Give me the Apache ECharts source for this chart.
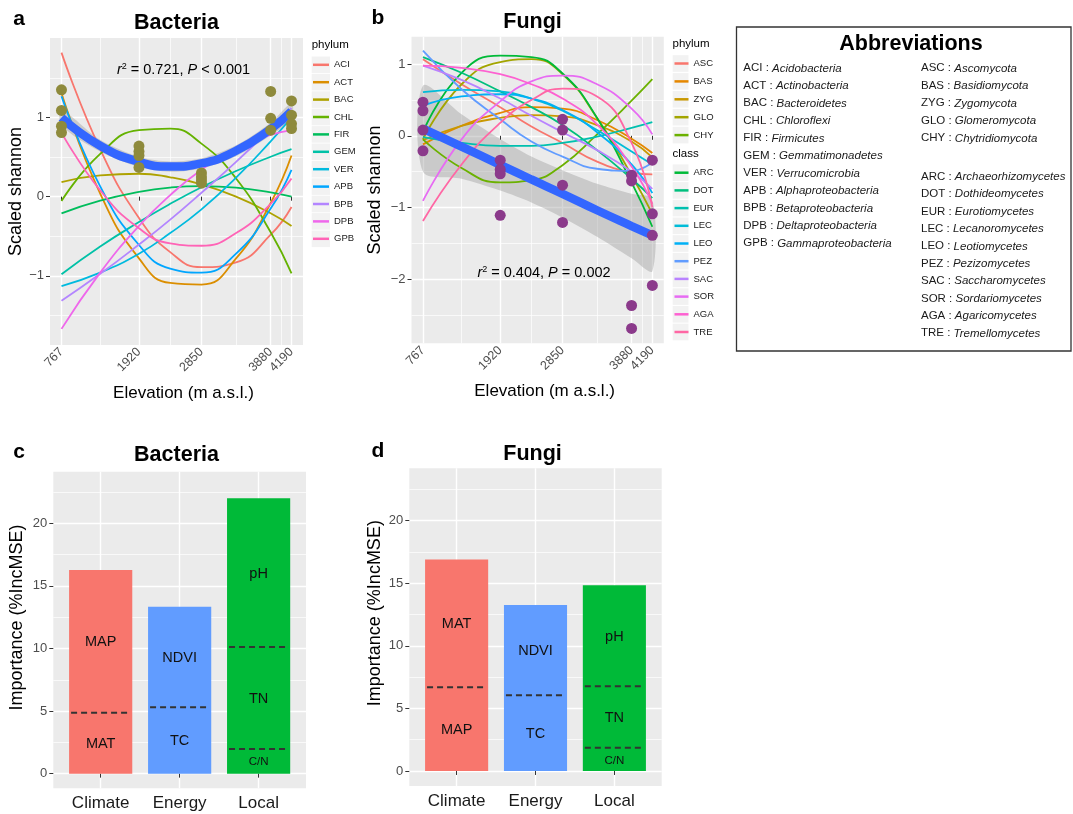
<!DOCTYPE html>
<html><head><meta charset="utf-8">
<script src="https://cdn.jsdelivr.net/npm/echarts@6/dist/echarts.min.js"></script>
<style>html,body{margin:0;padding:0;background:#fff}#c{width:1073px;height:814px}</style>
</head><body><div id="c"></div>
<script>
const FONT = '"Liberation Sans", Arial, Helvetica, sans-serif';

// ---------- DATA ----------
const elevTicks = [767, 1920, 2850, 3880, 4190];
const sampleElev = [767, 1343, 1920, 2385, 2850, 3365, 3880, 4190];

// Bacteria (panel a) fitted curves per phylum, read at sampleElev
const bacNames = ['ACI','ACT','BAC','CHL','FIR','GEM','VER','APB','BPB','DPB','GPB'];
const bacColors = ['#F8766D','#DB8E00','#AEA200','#64B200','#00BD5C','#00C1A7','#00BADE','#00A6FF','#B385FF','#EF67EB','#FF63B6'];
const ACI = [1.82, 0.60, -0.27, -0.70, -0.89, -0.83, -0.48, -0.13];
const ACT = [1.31, 0.04, -0.78, -1.09, -1.11, -0.78, -0.08, 0.52];
const BAC = [0.185, 0.27, 0.29, 0.245, 0.155, 0.0, -0.21, -0.37];
const CHL = [-0.055, 0.54, 0.84, 0.86, 0.67, 0.23, -0.45, -0.97];
const FIR = [-0.21, -0.05, 0.06, 0.115, 0.134, 0.115, 0.055, 0.0];
const GEM = [-0.98, -0.63, -0.32, -0.09, 0.12, 0.325, 0.505, 0.60];
const VER = [-1.13, -0.96, -0.72, -0.46, -0.16, 0.24, 0.70, 1.00];
const APB = [1.27, 0.13, -0.61, -0.91, -0.96, -0.72, -0.15, 0.34];
const BPB = [-1.315, -0.975, -0.605, -0.29, 0.05, 0.44, 0.86, 1.12];
const DPB = [-1.67, -0.96, -0.37, 0.02, 0.34, 0.61, 0.78, 0.84];
const GPB = [0.81, 0.08, -0.40, -0.59, -0.62, -0.46, -0.09, 0.23];
const bacCurves = [ACI, ACT, BAC, CHL, FIR, GEM, VER, APB, BPB, DPB, GPB];
const bacFit = [1.00, 0.644, 0.44, 0.38, 0.42, 0.58, 0.855, 1.08];
const bacFitLow = [0.90, 0.57, 0.375, 0.315, 0.355, 0.51, 0.775, 0.98];
const bacFitHigh = [1.10, 0.72, 0.505, 0.445, 0.485, 0.65, 0.935, 1.18];
const bacPtElev = [767,767,767,767, 1920,1920,1920,1920, 2850,2850,2850,2850, 3880,3880,3880, 4190,4190,4190,4190];
const bacPtVal  = [1.35,1.09,0.89,0.81, 0.64,0.57,0.52,0.37, 0.30,0.25,0.21,0.17, 1.33,0.99,0.84, 1.21,1.03,0.92,0.86];

// Fungi (panel b)
const fungPhylumNames = ['ASC','BAS','ZYG','GLO','CHY'];
const fungClassNames = ['ARC','DOT','EUR','LEC','LEO','PEZ','SAC','SOR','AGA','TRE'];
const fungColors = ['#F8766D','#E58700','#C99800','#A3A500','#6BB100','#00BA38','#00BF7D','#00C0AF','#00BCD8','#00B0F6','#619CFF','#B983FF','#E76BF3','#FD61D1','#FF67A4'];
const ASC = [1.07, 0.72, 0.40, 0.13, -0.10, -0.36, -0.51, -0.54];
const BAS = [-0.12, 0.14, 0.32, 0.40, 0.38, 0.22, -0.04, -0.24];
const ZYG = [-0.06, 0.14, 0.25, 0.29, 0.27, 0.15, -0.08, -0.30];
const GLO = [-0.05, 0.72, 1.03, 1.07, 0.86, 0.25, -0.55, -1.09];
const CHY = [-0.05, -0.45, -0.65, -0.62, -0.41, 0.02, 0.49, 0.79];
const ARC = [0.05, 0.88, 1.12, 1.10, 0.87, 0.25, -0.65, -1.27];
const DOT = [1.10, 0.88, 0.62, 0.40, 0.15, -0.20, -0.60, -0.87];
const EUR = [-0.02, -0.10, -0.14, -0.14, -0.10, -0.01, 0.11, 0.19];
const LEC = [0.61, 0.64, 0.62, 0.52, 0.35, 0.08, -0.22, -0.40];
const LEO = [0.42, 0.55, 0.58, 0.52, 0.36, 0.05, -0.40, -0.80];
const PEZ = [1.19, 0.65, 0.23, -0.08, -0.29, -0.46, -0.49, -0.37];
const SAC = [0.98, 0.78, 0.52, 0.28, 0.05, -0.20, -0.50, -0.74];
const SOR = [-0.91, -0.05, 0.48, 0.76, 0.84, 0.72, 0.38, 0.02];
const AGA = [0.98, 0.95, 0.86, 0.72, 0.52, 0.16, -0.43, -0.95];
const TRE = [-1.19, -0.40, 0.18, 0.50, 0.66, 0.55, -0.10, -1.00];
const fungCurves = [ASC, BAS, ZYG, GLO, CHY, ARC, DOT, EUR, LEC, LEO, PEZ, SAC, SOR, AGA, TRE];
const fungFit = [0.10, -0.15, -0.405, -0.61, -0.81, -1.04, -1.26, -1.39];
const fungFitLow = [-0.50, -0.60, -0.765, -0.93, -1.14, -1.41, -1.71, -1.89];
const fungFitHigh = [0.70, 0.30, -0.045, -0.29, -0.48, -0.67, -0.81, -0.89];
const fungPtElev = [767,767,767,767, 1920,1920,1920,1920, 2850,2850,2850,2850, 3880,3880,3880,3880, 4190,4190,4190,4190];
const fungPtVal  = [0.47,0.35,0.08,-0.21, -0.34,-0.47,-0.53,-1.11, 0.23,0.08,-0.69,-1.21, -0.55,-0.63,-2.37,-2.69, -0.34,-1.09,-1.39,-2.09];

// Panels c, d : importance (%IncMSE)
const groups = ['Climate','Energy','Local'];
const groupColors = ['#F8766D','#619CFF','#00BA38'];
const bacTotal = [16.27, 13.34, 22.0];
const bacSplitLow = [4.87, 5.30, 1.97];
const bacSplitHigh = [null, null, 10.12];
const bacLblLow = ['MAT','TC','C/N'];
const bacLblMid = ['MAP','NDVI','TN'];
const bacLblTop = ['','','pH'];
const fungTotal = [16.9, 13.26, 14.83];
const fungSplitLow = [6.69, 6.05, 1.86];
const fungSplitHigh = [null, null, 6.77];
const fungLblLow = ['MAP','TC','C/N'];
const fungLblMid = ['MAT','NDVI','TN'];
const fungLblTop = ['','','pH'];

// Abbreviations
const abbrLeft = [['ACI','Acidobacteria'],['ACT','Actinobacteria'],['BAC','Bacteroidetes'],['CHL','Chloroflexi'],['FIR','Firmicutes'],['GEM','Gemmatimonadetes'],['VER','Verrucomicrobia'],['APB','Alphaproteobacteria'],['BPB','Betaproteobacteria'],['DPB','Deltaproteobacteria'],['GPB','Gammaproteobacteria']];
const abbrRightA = [['ASC','Ascomycota'],['BAS','Basidiomycota'],['ZYG','Zygomycota'],['GLO','Glomeromycota'],['CHY','Chytridiomycota']];
const abbrRightB = [['ARC','Archaeorhizomycetes'],['DOT','Dothideomycetes'],['EUR','Eurotiomycetes'],['LEC','Lecanoromycetes'],['LEO','Leotiomycetes'],['PEZ','Pezizomycetes'],['SAC','Saccharomycetes'],['SOR','Sordariomycetes'],['AGA','Agaricomycetes'],['TRE','Tremellomycetes']];

// ---------- BUILD ----------
const minus = v => String(v).replace('-', '\u2212');
const mids = a => a.slice(1).map((v, i) => (v + a[i]) / 2);

const gridBase = {show:true, backgroundColor:'#EBEBEB', borderWidth:0, containLabel:false, outerBoundsMode:'none'};
const grid = [
  Object.assign({left:50, top:38, width:253, height:307}, gridBase),
  Object.assign({left:411.5, top:36.7, width:252.3, height:306.6}, gridBase),
  Object.assign({left:53.3, top:471.7, width:252.7, height:316.6}, gridBase),
  Object.assign({left:409.3, top:468.3, width:252.4, height:317.7}, gridBase)
];

const tickStyle = {lineStyle:{color:'#333', width:1}, length:4};
const majorSplit = {show:true, lineStyle:{color:'#FFFFFF', width:1.4}};
const minorSplit = {show:true, lineStyle:{color:'#FFFFFF', width:0.7}};

function mainValAxis(gi, min, max, ticks, extra) {
  return Object.assign({
    type:'value', gridIndex:gi, min:min, max:max,
    axisLine:{show:false},
    axisTick:Object.assign({show:true, customValues:ticks}, tickStyle),
    axisLabel:{customValues:ticks, formatter:minus, fontSize:13, color:'#4D4D4D', fontFamily:FONT, margin:6},
    splitLine:majorSplit
  }, extra || {});
}
function minorAxis(gi, min, max, ticks) {
  return {type:'value', gridIndex:gi, min:min, max:max, show:true,
    axisLine:{show:false}, axisTick:{show:false, customValues:ticks},
    axisLabel:{show:false, customValues:ticks}, splitLine:minorSplit, z:0};
}

const xMinE = 596, xMaxE = 4361;
const elevMinor = mids(elevTicks);
const xAxisName = {name:'Elevation (m a.s.l.)', nameLocation:'middle', nameGap:40,
  nameTextStyle:{fontSize:17, color:'#000', fontFamily:FONT, padding:[0,0,0,14]}};
const elevLabel = {customValues:elevTicks, formatter:v => String(v), rotate:45, fontSize:12.5, color:'#4D4D4D',
  fontFamily:FONT, margin:5, padding:[10,0,0,0]};

const catPos = groups.map((g, i) => i + 1);
function catAxis(gi) {
  return {type:'value', gridIndex:gi, min:0.4, max:3.6,
    axisLine:{show:false},
    axisTick:Object.assign({show:true, customValues:catPos}, tickStyle),
    axisLabel:{customValues:catPos, formatter:v => groups[Math.round(v) - 1], fontSize:17, color:'#1A1A1A', fontFamily:FONT, margin:7},
    splitLine:majorSplit};
}

const xAxis = [
  mainValAxis(0, xMinE, xMaxE, elevTicks, Object.assign({axisLabel:elevLabel}, xAxisName)),
  mainValAxis(1, xMinE, xMaxE, elevTicks, Object.assign({axisLabel:elevLabel}, xAxisName)),
  catAxis(2),
  catAxis(3),
  minorAxis(0, xMinE, xMaxE, elevMinor),
  minorAxis(1, xMinE, xMaxE, elevMinor)
];

const yName = (n, gap, pad) => ({name:n, nameLocation:'middle', nameGap:gap,
  nameTextStyle:{fontSize:18, color:'#000', fontFamily:FONT, padding:pad || 0}});
const aY = [-1, 0, 1], bY = [-2, -1, 0, 1], cY = [0, 5, 10, 15, 20];
const yAxis = [
  mainValAxis(0, -1.874, 2.005, aY, yName('Scaled shannon', 24)),
  mainValAxis(1, -2.898, 1.384, bY, yName('Scaled shannon', 27)),
  mainValAxis(2, -1.17, 24.12, cY, yName('Importance (%IncMSE)', 27, [0,0,0,25])),
  mainValAxis(3, -1.2, 24.18, cY, yName('Importance (%IncMSE)', 25, [0,0,0,28])),
  minorAxis(0, -1.874, 2.005, [-1.5, -0.5, 0.5, 1.5]),
  minorAxis(1, -2.898, 1.384, [-2.5, -1.5, -0.5, 0.5]),
  minorAxis(2, -1.17, 24.12, mids(cY).concat([22.5])),
  minorAxis(3, -1.2, 24.18, mids(cY).concat([22.5]))
];

const series = [];
function addPanel(ai, names, colors, curves, fit, lo, hi, ptE, ptV, ptColor, key) {
  const pairs = arr => sampleElev.map((e, i) => [e, arr[i]]);
  // confidence ribbon, drawn from lo/hi through the axes
  series.push({type:'custom', name:key + 'Band', xAxisIndex:ai, yAxisIndex:ai, data:[[sampleElev[0], lo[0]]],
    silent:true, z:2, clip:true,
    renderItem:(params, api) => {
      const top = sampleElev.map((e, i) => api.coord([e, hi[i]]));
      const bot = sampleElev.map((e, i) => api.coord([e, lo[i]])).reverse();
      return {type:'group', children:[
        {type:'polygon', shape:{points:top.concat(bot), smooth:0.3}, style:{fill:'rgba(153,153,153,0.4)'}}
      ]};
    }});
  names.forEach((n, k) => {
    series.push({type:'line', name:n, xAxisIndex:ai, yAxisIndex:ai, data:pairs(curves[k]), smooth:0.5,
      symbol:'none', lineStyle:{color:colors[k], width:1.8}, itemStyle:{color:colors[k]}, silent:true, z:3});
  });
  series.push({type:'line', name:key + 'Fit', xAxisIndex:ai, yAxisIndex:ai, data:pairs(fit), smooth:0.5,
    symbol:'none', lineStyle:{color:'#3366FF', width:8.5}, silent:true, z:4});
  series.push({type:'scatter', name:key + 'Pts', xAxisIndex:ai, yAxisIndex:ai, data:ptE.map((e, i) => [e, ptV[i]]),
    symbolSize:11, itemStyle:{color:ptColor, opacity:1}, silent:true, z:5});
}
addPanel(0, bacNames, bacColors, bacCurves, bacFit, bacFitLow, bacFitHigh, bacPtElev, bacPtVal, '#8E8A3C', 'bac');
addPanel(1, fungPhylumNames.concat(fungClassNames), fungColors, fungCurves, fungFit, fungFitLow, fungFitHigh, fungPtElev, fungPtVal, '#8B3A8B', 'fung');

function addBars(ai, total, sLow, sHigh, lLow, lMid, lTop, key) {
  series.push({type:'bar', name:key + 'Bar', xAxisIndex:ai, yAxisIndex:ai, barWidth:'80%', silent:true, z:2,
    data:total.map((t, i) => ({value:[i + 1, t], itemStyle:{color:groupColors[i]}}))});
  // segment labels at the middle of each segment
  const lbl = [], pos = [];
  total.forEach((t, i) => {
    const edges = [0, sLow[i]].concat(sHigh[i] != null ? [sHigh[i]] : []).concat([t]);
    const names = [lLow[i], lMid[i], lTop[i]];
    for (let k = 0; k < edges.length - 1; k++) {
      pos.push([i + 1, (edges[k] + edges[k + 1]) / 2]);
      lbl.push(names[k]);
    }
  });
  series.push({type:'custom', name:key + 'Lbl', xAxisIndex:ai, yAxisIndex:ai, data:pos, silent:true, z:4,
    renderItem:(params, api) => {
      const c = api.coord([api.value(0), api.value(1)]);
      const t = lbl[params.dataIndex];
      return {type:'text', x:c[0], y:c[1] + 1, style:{text:t, fontSize:t === 'C/N' ? 11.5 : 14.5, fontFamily:FONT, fill:'#111',
        align:'center', verticalAlign:'middle', textAlign:'center', textVerticalAlign:'middle'}};
    }});
  const dashes = [];
  sLow.forEach((v, i) => dashes.push([i + 1, v]));
  sHigh.forEach((v, i) => { if (v != null) dashes.push([i + 1, v]); });
  series.push({type:'custom', name:key + 'Dash', xAxisIndex:ai, yAxisIndex:ai, data:dashes, silent:true, z:3,
    renderItem:(params, api) => {
      const c = api.coord([api.value(0), api.value(1)]);
      const w = api.size([1, 0])[0] * 0.8;
      return {type:'line', shape:{x1:c[0] - w / 2 + 2, y1:c[1], x2:c[0] + w / 2 - 2, y2:c[1]},
        style:{stroke:'#333', lineWidth:2, lineDash:[6, 4]}};
    }});
}
addBars(2, bacTotal, bacSplitLow, bacSplitHigh, bacLblLow, bacLblMid, bacLblTop, 'cBac');
addBars(3, fungTotal, fungSplitLow, fungSplitHigh, fungLblLow, fungLblMid, fungLblTop, 'dFung');

// legends
const legTxt = {fontSize:9.5, color:'#1A1A1A', fontFamily:FONT, lineHeight:12};
const legA = {top:58.8, left:313, pitch:17.4};
const legB1 = {top:57.5, left:674.5, pitch:17.9};
const legB2 = {top:166.7, left:674.5, pitch:17.7};
const legend = [
  {data:bacNames, orient:'vertical', left:legA.left, top:legA.top, itemWidth:16, itemHeight:2.5, icon:'rect',
    itemGap:legA.pitch - 12, padding:0, selectedMode:false, textStyle:legTxt},
  {data:fungPhylumNames, orient:'vertical', left:legB1.left, top:legB1.top, itemWidth:14, itemHeight:2.5, icon:'rect',
    itemGap:legB1.pitch - 12, padding:0, selectedMode:false, textStyle:legTxt},
  {data:fungClassNames, orient:'vertical', left:legB2.left, top:legB2.top, itemWidth:14, itemHeight:2.5, icon:'rect',
    itemGap:legB2.pitch - 12, padding:0, selectedMode:false, textStyle:legTxt}
];

// graphics
const g = [];
function txt(x, y, text, size, opts) {
  const o = Object.assign({weight:'normal', align:'center', vAlign:'middle', color:'#000', style:'normal'}, opts || {});
  g.push({type:'text', x:x, y:y, z:10, silent:true,
    style:{text:text, fontSize:size, fontFamily:FONT, fontWeight:o.weight, fontStyle:o.style, fill:o.color,
      align:o.align, verticalAlign:o.vAlign, textAlign:o.align, textVerticalAlign:o.vAlign, rich:o.rich}});
}
function keys(x, w, L, n) {
  for (let i = 0; i < n; i++) {
    const cy = L.top + 6 + i * L.pitch;
    g.push({type:'rect', z:1, silent:true, shape:{x:x, y:cy - 8.3, width:w, height:16.6}, style:{fill:'#F2F2F2'}});
  }
}
keys(311.7, 18.3, legA, bacNames.length);
keys(672.7, 15.8, legB1, fungPhylumNames.length);
keys(672.7, 15.8, legB2, fungClassNames.length);

txt(19, 19, 'a', 21, {weight:'bold'});
txt(378, 18.5, 'b', 21, {weight:'bold'});
txt(19, 452.5, 'c', 21, {weight:'bold'});
txt(378, 451.5, 'd', 21, {weight:'bold'});
txt(176.5, 23.5, 'Bacteria', 21.5, {weight:'bold'});
txt(532.5, 22, 'Fungi', 21.5, {weight:'bold'});
txt(176.5, 455, 'Bacteria', 21.5, {weight:'bold'});
txt(532.5, 454, 'Fungi', 21.5, {weight:'bold'});

const richAnn = {i:{fontStyle:'italic', fontSize:14.5, fontFamily:FONT, fill:'#000', color:'#000'},
  n:{fontSize:14.5, fontFamily:FONT, fill:'#000', color:'#000'},
  s:{fontSize:9, fontFamily:FONT, fill:'#000', color:'#000', padding:[0,0,7,0]}};
txt(183.5, 70, '{i|r}{s|2}{n| = 0.721, }{i|P}{n| < 0.001}', 14.5, {rich:richAnn});
txt(544, 273, '{i|r}{s|2}{n| = 0.404, }{i|P}{n| = 0.002}', 14.5, {rich:richAnn});

txt(311.7, 45, 'phylum', 11.5, {align:'left'});
txt(672.5, 44, 'phylum', 11.5, {align:'left'});
txt(672.5, 154, 'class', 11.5, {align:'left'});

// abbreviation box
g.push({type:'rect', z:1, silent:true, shape:{x:736.5, y:27, width:334.5, height:324},
  style:{fill:'none', stroke:'#333', lineWidth:1.3}});
txt(911, 44.5, 'Abbreviations', 21.5, {weight:'bold'});
const richAb = {n:{fontSize:11.5, fontFamily:FONT, fill:'#1A1A1A', color:'#1A1A1A'},
  i:{fontSize:11.5, fontFamily:FONT, fontStyle:'italic', fill:'#1A1A1A', color:'#1A1A1A'}};
abbrLeft.forEach((p, i) => txt(743.3, 68.3 + i * 17.5, '{n|' + p[0] + ' : }{i|' + p[1] + '}', 11.5, {align:'left', rich:richAb}));
abbrRightA.forEach((p, i) => txt(921, 68.3 + i * 17.5, '{n|' + p[0] + ' : }{i|' + p[1] + '}', 11.5, {align:'left', rich:richAb}));
abbrRightB.forEach((p, i) => txt(921, 176.7 + i * 17.4, '{n|' + p[0] + ' : }{i|' + p[1] + '}', 11.5, {align:'left', rich:richAb}));

const chart = echarts.init(document.getElementById('c'), null, {renderer:'canvas'});
chart.setOption({
  animation:false,
  backgroundColor:'#FFFFFF',
  textStyle:{fontFamily:FONT},
  grid:grid, xAxis:xAxis, yAxis:yAxis, legend:legend, series:series,
  graphic:{elements:g}
});
</script>
</body></html>
